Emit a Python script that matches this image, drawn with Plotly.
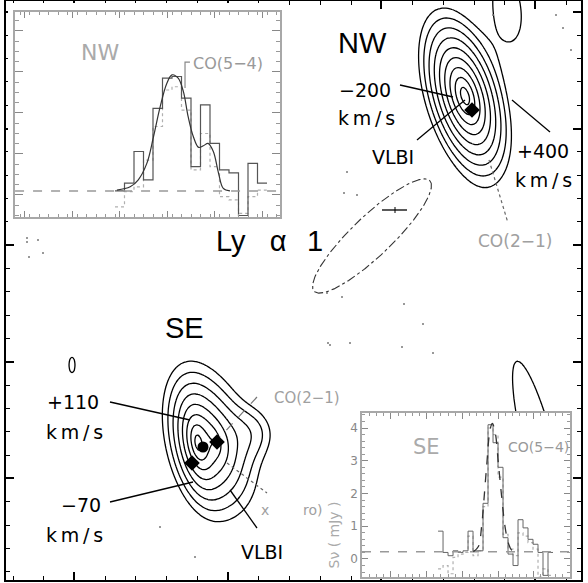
import numpy as np
import plotly.graph_objects as go

W, H = 588, 583

# ---------------- map model (main panel, pixel-like sky coordinates) ----------------
comp_x = [465, 198, 214, 252, 72, 508, 540]
comp_y = [96, 443, 442, 432, 365, 5, 452]
comp_amp = [1.08, 0.60, 0.30, 0.045, 0.065, 0.065, 0.065]
comp_a = [29.6, 22.0, 40.0, 25.0, 14.6, 55.0, 182.0]
comp_b = [13.0, 9.0, 22.0, 25.0, 5.9, 22.5, 30.0]
comp_pa = [16.7, 10.0, 17.0, 0.0, 0.0, 10.0, 14.3]
comp_index = [1, 1, 1, 2, 2, 2, 2]

# contour levels: 0.05 x sqrt(2)^k
level_base = 0.05
level_count = 9

# VLBI positions and the SE peak
vlbi_x = [472, 217, 192]
vlbi_y = [110, 442, 463]
peak_x = [203]
peak_y = [447]

# faint noise pixels
noise_x = [27, 27, 38, 29, 43, 347, 344, 357, 342, 404, 423, 328, 350, 402, 433,
           556, 563, 571, 493, 327, 330, 160, 195]
noise_y = [238, 242, 240, 257, 253, 172, 193, 195, 297, 304, 324, 343, 343, 347, 353,
           15, 28, 50, 15, 293, 345, 527, 557]

# restoring beam
beam_cx, beam_cy, beam_major, beam_minor, beam_angle = 372, 236, 80, 20, -43.7

# ---------------- NW spectrum ----------------
nw_edges = list(range(-600, 1001, 100))
nw_obs = [0.10, 0.29, 1.06, 0.37, 2.11, 2.85, 2.89, 2.36, 0.69, 2.20, 1.26, 0.61, 0.54, -0.50, 0.77, 0.29]
nw_alt = [-0.29, 0.08, 0.20, 0.85, 1.67, 2.56, 2.64, 2.07, 0.61, 1.50, 0.69, -0.04, -0.12, -0.45, -0.04, 0.12]
nw_fit_v = [-580, -440, -355, -265, -195, -125, -55, 0, 65, 120, 170, 225, 280, 330, 380, 435, 490, 540, 610]
nw_fit_f = [0.12, 0.20, 0.37, 0.77, 1.42, 2.15, 2.72, 2.93, 2.85, 2.52, 1.91, 1.42, 1.16, 1.20, 1.26, 1.06, 0.53, 0.16, 0.10]
nw_base = 0.10

# ---------------- SE spectrum ----------------
se_edges = list(range(-840, 771, 70))
se_obs = [0.85, 0.20, 0.10, 0.25, 0.20, 0.25, 0.85, 0.25, 0.25, 1.70, 4.10, 3.55, 2.80, 0.65, 0.15, -0.20,
          1.20, 0.95, 0.60, 0.45, 0.20, -0.50, 0.20]
se_alt = [-0.30, -0.20, -0.45, 0.05, 0.15, 0.20, 0.70, 0.10, 0.25, 1.60, 4.00, 3.80, 2.50, 0.75, 0.30, 0.10,
          0.80, 0.70, 0.50, 0.30, -0.55, -0.30, -0.50]
se_fit_v = [-345, -275, -230, -205, -160, -112, -80, -42, 5, 51, 98, 145, 192, 262]
se_fit_f = [0.22, 0.38, 0.99, 1.60, 2.82, 3.94, 4.14, 3.90, 2.92, 1.90, 0.99, 0.48, 0.27, 0.22]
se_base = 0.22
se_yticks = [0, 1, 2, 3, 4]

# ---------------- build map ----------------
gx = np.arange(6, 582, 2.0)
gy = np.arange(1, 581, 2.0)
X, Y = np.meshgrid(gx, gy)
field = np.full(X.shape, 1e-6)
for cx, cy, amp, a, b, pa, p in zip(comp_x, comp_y, comp_amp, comp_a, comp_b, comp_pa, comp_index):
    t = np.radians(pa)
    dx, dy = X - cx, Y - cy
    u = dx * np.sin(t) + dy * np.cos(t)
    n = dx * np.cos(t) - dy * np.sin(t)
    rho = np.sqrt((u / a) ** 2 + (n / b) ** 2)
    field += amp * np.exp(-rho ** p)
logfield = np.round(np.log2(field), 4)
lv0 = float(np.log2(level_base))

fig = go.Figure()

fig.add_trace(go.Contour(
    x=gx, y=gy, z=logfield, xaxis="x", yaxis="y",
    contours=dict(coloring="lines", start=lv0, end=lv0 + 0.5 * (level_count - 1), size=0.5),
    colorscale=[[0, "black"], [1, "black"]], line=dict(width=1.3, smoothing=1.0),
    showscale=False, hoverinfo="skip"))

# beam ellipse
tt = np.linspace(0, 2 * np.pi, 240)
ang = np.radians(beam_angle)
bx = beam_cx + beam_major * np.cos(tt) * np.cos(ang) - beam_minor * np.sin(tt) * np.sin(ang)
by = beam_cy + beam_major * np.cos(tt) * np.sin(ang) + beam_minor * np.sin(tt) * np.cos(ang)
fig.add_trace(go.Scatter(x=bx, y=by, mode="lines", line=dict(color="#333", width=1.1, dash="dashdot"),
                         hoverinfo="skip", showlegend=False))

fig.add_trace(go.Scatter(x=noise_x, y=noise_y, mode="markers",
                         marker=dict(size=2, color="#777"), hoverinfo="skip", showlegend=False))
fig.add_trace(go.Scatter(x=vlbi_x, y=vlbi_y, mode="markers",
                         marker=dict(symbol="diamond", size=12, color="black"), showlegend=False))
fig.add_trace(go.Scatter(x=peak_x, y=peak_y, mode="markers",
                         marker=dict(symbol="circle", size=11, color="black"), showlegend=False))

# blank panel hiding the frame ticks behind the NW spectrum
fig.add_trace(go.Scatter(x=[None], y=[None], xaxis="x2", yaxis="y2", showlegend=False))


def steps(edges, vals):
    return list(edges), list(vals) + [vals[-1]]


# NW spectrum
ex, ey = steps(nw_edges, nw_alt)
fig.add_trace(go.Scatter(x=ex, y=ey, xaxis="x3", yaxis="y3", mode="lines", line_shape="hv",
                         line=dict(color="#b0b0b0", width=1.2, dash="dot"), showlegend=False))
ex, ey = steps(nw_edges, nw_obs)
fig.add_trace(go.Scatter(x=ex, y=ey, xaxis="x3", yaxis="y3", mode="lines", line_shape="hv",
                         line=dict(color="#555", width=1.2), showlegend=False))
fig.add_trace(go.Scatter(x=nw_fit_v, y=nw_fit_f, xaxis="x3", yaxis="y3", mode="lines", line_shape="spline",
                         line=dict(color="#333", width=1.2), showlegend=False))
fig.add_trace(go.Scatter(x=[-1652, 1136], y=[nw_base, nw_base], xaxis="x3", yaxis="y3", mode="lines",
                         line=dict(color="#999", width=1.5, dash="dash"), showlegend=False))

# SE spectrum
ex, ey = steps(se_edges, se_alt)
fig.add_trace(go.Scatter(x=ex, y=ey, xaxis="x4", yaxis="y4", mode="lines", line_shape="hv",
                         line=dict(color="#b0b0b0", width=1.2, dash="dot"), showlegend=False))
ex, ey = steps(se_edges, se_obs)
fig.add_trace(go.Scatter(x=ex, y=ey, xaxis="x4", yaxis="y4", mode="lines", line_shape="hv",
                         line=dict(color="#666", width=1.0), showlegend=False))
fig.add_trace(go.Scatter(x=[-1905, 1008], y=[se_base, se_base], xaxis="x4", yaxis="y4", mode="lines",
                         line=dict(color="#999", width=1.5, dash="dash"), showlegend=False))
fig.add_trace(go.Scatter(x=se_fit_v, y=se_fit_f, xaxis="x4", yaxis="y4", mode="lines", line_shape="spline",
                         line=dict(color="#333", width=1.3, dash="dash"), showlegend=False))


def px_dom_x(a, b):
    return [a / W, b / W]


def px_dom_y(top, bottom):
    return [1 - bottom / H, 1 - top / H]


main_common = dict(showgrid=False, zeroline=False, showticklabels=False, showline=True,
                   linecolor="black", linewidth=1.6, mirror="ticks", ticks="inside",
                   tickcolor="black", tickwidth=1.6)
fig.update_layout(
    width=W, height=H, margin=dict(l=0, r=0, t=0, b=0),
    paper_bgcolor="white", plot_bgcolor="white", showlegend=False,
    xaxis=dict(domain=px_dom_x(6, 581), range=[6, 581], anchor="y", ticklen=8, tick0=74, dtick=153.7,
               minor=dict(ticks="inside", ticklen=4, tick0=13, dtick=30.74, tickcolor="black", tickwidth=1.4),
               **main_common),
    yaxis=dict(domain=px_dom_y(1, 580), range=[580, 1], anchor="x", ticklen=8, tick0=12, dtick=116.6,
               minor=dict(ticks="inside", ticklen=4, tick0=12, dtick=23.32, tickcolor="black", tickwidth=1.4),
               **main_common),
    xaxis2=dict(domain=px_dom_x(8, 287), range=[0, 1], anchor="y2", visible=False),
    yaxis2=dict(domain=px_dom_y(3, 223), range=[0, 1], anchor="x2", visible=False),
)

inset_common = dict(showgrid=False, zeroline=False, showline=True, linecolor="#a8a8a8",
                    mirror="ticks", ticks="inside", tickcolor="#888", tickwidth=1.2)
fig.update_layout(
    xaxis3=dict(domain=px_dom_x(15, 280), range=[-1652.6, 1136.8], anchor="y3", linewidth=2,
                showticklabels=False, ticklen=6, tick0=-50, dtick=500,
                minor=dict(ticks="inside", ticklen=3, dtick=100, tickcolor="#999"), **inset_common),
    yaxis3=dict(domain=px_dom_y(12, 217), range=[-0.537, 4.463], anchor="x3", linewidth=2,
                showticklabels=False, ticklen=8, tick0=0, dtick=1,
                minor=dict(ticks="inside", ticklen=4, dtick=0.25, tickcolor="#999"), **inset_common),
    xaxis4=dict(domain=px_dom_x(362, 570), range=[-1905, 1008], anchor="y4", linewidth=1.5,
                showticklabels=False, ticklen=6, tick0=0, dtick=500,
                minor=dict(ticks="inside", ticklen=3, dtick=100, tickcolor="#999"), **inset_common),
    yaxis4=dict(domain=px_dom_y(413, 577), range=[-0.55, 4.458], anchor="x4", linewidth=1.5,
                showticklabels=True, tickmode="array", tickvals=se_yticks, ticklen=6,
                tickfont=dict(family="DejaVu Sans", size=12, color="#888"),
                minor=dict(ticks="inside", ticklen=3, dtick=0.2, tickcolor="#999"), **inset_common),
)

# leader lines
solid_leaders = [(400, 85, 453, 97), (417, 140, 465, 100), (512, 100, 550, 132),
                 (110, 402, 190, 420), (110, 502, 193, 482), (257, 528, 230, 490)]
shapes = []
for x0, y0, x1, y1 in solid_leaders:
    shapes.append(dict(type="line", xref="x", yref="y", x0=x0, y0=y0, x1=x1, y1=y1,
                       line=dict(color="black", width=1.3)))
for x0, y0, x1, y1 in [(489, 160, 508, 223), (227, 463, 267, 493)]:
    shapes.append(dict(type="line", xref="x", yref="y", x0=x0, y0=y0, x1=x1, y1=y1,
                       line=dict(color="#666", width=1.2, dash="dot")))
shapes.append(dict(type="line", xref="x", yref="y", x0=257, y0=397, x1=220, y1=437,
                   line=dict(color="#777", width=1.2, dash="dash")))
# scale bar inside the beam
shapes.append(dict(type="line", xref="x", yref="y", x0=382, y0=210, x1=407, y1=210,
                   line=dict(color="black", width=1.3)))
shapes.append(dict(type="line", xref="x", yref="y", x0=395, y0=207, x1=395, y1=213,
                   line=dict(color="black", width=1)))
# CO(5-4) pointer in the NW spectrum
shapes.append(dict(type="path", xref="x3", yref="y3", path="M 137,2.61 L 137,3.24 L 189,3.24",
                   line=dict(color="#888", width=1.2)))
fig.update_layout(shapes=shapes)

ann = []


def label(x, y, text, size=19, color="black", family="DejaVu Sans", xanchor="center", xref="x", yref="y"):
    ann.append(dict(x=x, y=y, xref=xref, yref=yref, text=text, showarrow=False, xanchor=xanchor,
                    yanchor="middle", font=dict(family=family, size=size, color=color)))


ks = "k\u2009m\u2009/\u2009s"
label(362, 43, "NW", size=29, family="Liberation Sans")
label(184, 328, "SE", size=29, family="Liberation Sans")
label(214, 241, "Ly\u00a0\u00a0\u00a0\u03b1", size=29, family="Liberation Sans", xanchor="left")
label(315, 241, "1", size=29, family="Liberation Sans")
label(365, 90, "\u2212200")
label(366, 118, ks)
label(393, 157, "VLBI")
label(543, 151, "+400")
label(543, 180, ks)
label(515, 241, "CO(2\u22121)", size=17, color="#a0a0a0")
label(73, 402, "+110")
label(74, 432, ks)
label(81, 505, "\u221270")
label(74, 535, ks)
label(262, 552, "VLBI")
label(272, 398, "CO(2\u22121)", size=15, color="#a0a0a0", xanchor="left")
label(265, 510, "x", size=14, color="#a0a0a0")
label(312, 510, "ro)", size=14, color="#a0a0a0")
# spectrum panel labels
label(100, 52, "NW", size=22, color="#aaa")
label(228, 63, "CO(5\u22124)", size=16, color="#999")
label(426, 447, "SE", size=21, color="#aaa")
label(538, 447, "CO(5\u22124)", size=14, color="#999")
ann.append(dict(x=333, y=500, xref="x", yref="y", text="S\u03bd ( mJy )", showarrow=False,
                textangle=-90, xanchor="center", yanchor="top",
                font=dict(family="DejaVu Sans", size=14, color="#aaa")))
fig.update_layout(annotations=ann)

fig.write_html("out.html")
